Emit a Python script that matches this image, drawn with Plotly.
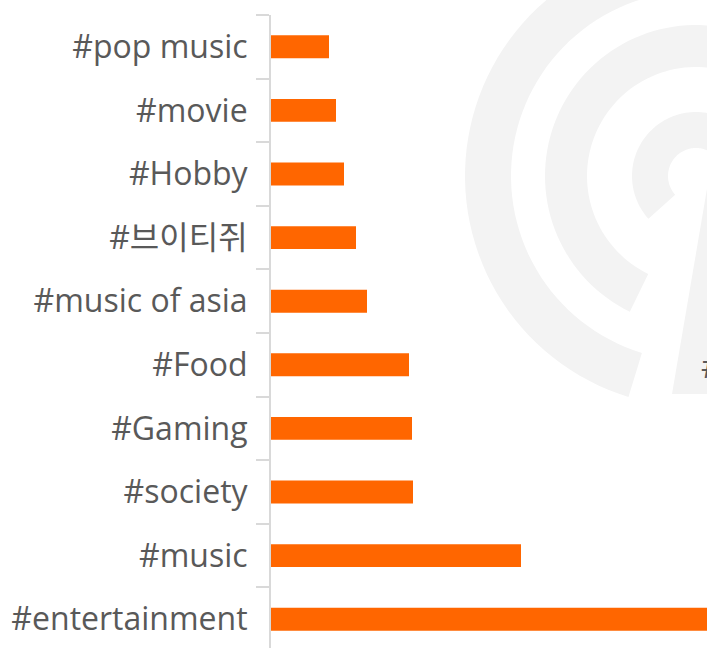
import math
import plotly.graph_objects as go

# ---- data (bottom to top) ----
categories = ["#entertainment", "#music", "#society", "#Gaming", "#Food",
              "#music of asia", "#브이티쥐", "#Hobby", "#movie", "#pop music"]
values = [520, 250, 142, 141, 138, 96, 85, 73, 65, 58]

BAR_COLOR = "#FF6600"
TEXT_COLOR = "#595959"
AXIS_COLOR = "#D9D9D9"
WM_COLOR = "#F3F3F3"

W, H = 707, 648
ML, MR, MT, MB = 271, 0, 15, 0
PW, PH = W - ML - MR, H - MT - MB


def to_paper(px, py):
    return (px - ML) / PW, (H - MB - py) / PH


def ring_path(cx, cy, r_in, r_out, a0, a1, n=80):
    pts = []
    for i in range(n + 1):
        a = math.radians(a0 + (a1 - a0) * i / n)
        pts.append(to_paper(cx + r_out * math.cos(a), cy - r_out * math.sin(a)))
    for i in range(n + 1):
        a = math.radians(a1 - (a1 - a0) * i / n)
        pts.append(to_paper(cx + r_in * math.cos(a), cy - r_in * math.sin(a)))
    return "M " + " L ".join(f"{x:.5f},{y:.5f}" for x, y in pts) + " Z"


def poly_path(points):
    pts = [to_paper(x, y) for x, y in points]
    return "M " + " L ".join(f"{x:.5f},{y:.5f}" for x, y in pts) + " Z"


cx, cy = 696, 176
shapes = []
for r_in, r_out, a0, a1 in [(185, 231, 40, 253), (109, 151, 40, 244), (28, 64, 40, 222)]:
    shapes.append(dict(type="path", xref="paper", yref="paper",
                       path=ring_path(cx, cy, r_in, r_out, a0, a1),
                       fillcolor=WM_COLOR, line=dict(width=0), layer="below"))
shapes.append(dict(type="path", xref="paper", yref="paper",
                   path=poly_path([(708, 183), (770, 183), (745, 394), (672, 394)]),
                   fillcolor=WM_COLOR, line=dict(width=0), layer="below"))

fig = go.Figure(go.Bar(
    x=values, y=categories, orientation="h",
    marker=dict(color=BAR_COLOR, line=dict(width=0)),
    width=0.36, hoverinfo="x+y",
))

hx, hy = to_paper(699, 365)
fig.update_layout(
    width=W, height=H,
    margin=dict(l=ML, r=MR, t=MT, b=MB, pad=0),
    paper_bgcolor="white", plot_bgcolor="rgba(0,0,0,0)",
    showlegend=False,
    font=dict(family="Open Sans, Noto Sans CJK KR, sans-serif", color=TEXT_COLOR, size=32),
    shapes=shapes,
    annotations=[dict(text="#", xref="paper", yref="paper", x=hx, y=hy,
                      xanchor="left", yanchor="middle", showarrow=False,
                      font=dict(size=32, color=TEXT_COLOR))],
    xaxis=dict(range=[0, PW], showgrid=False, zeroline=False, showline=False,
               showticklabels=False, ticks=""),
    yaxis=dict(type="category", categoryorder="array", categoryarray=categories,
               range=[-0.453, 9.5], showgrid=False, zeroline=False,
               showline=True, linecolor=AXIS_COLOR, linewidth=2,
               ticks="outside", ticklen=13, tickwidth=2, tickcolor=AXIS_COLOR,
               tickson="boundaries", ticklabelstandoff=15,
               tickfont=dict(size=32, color=TEXT_COLOR)),
)

fig.write_html("out.html",
               config={"displayModeBar": False},
               post_script="document.body.style.margin='0';document.body.style.overflow='hidden';")
